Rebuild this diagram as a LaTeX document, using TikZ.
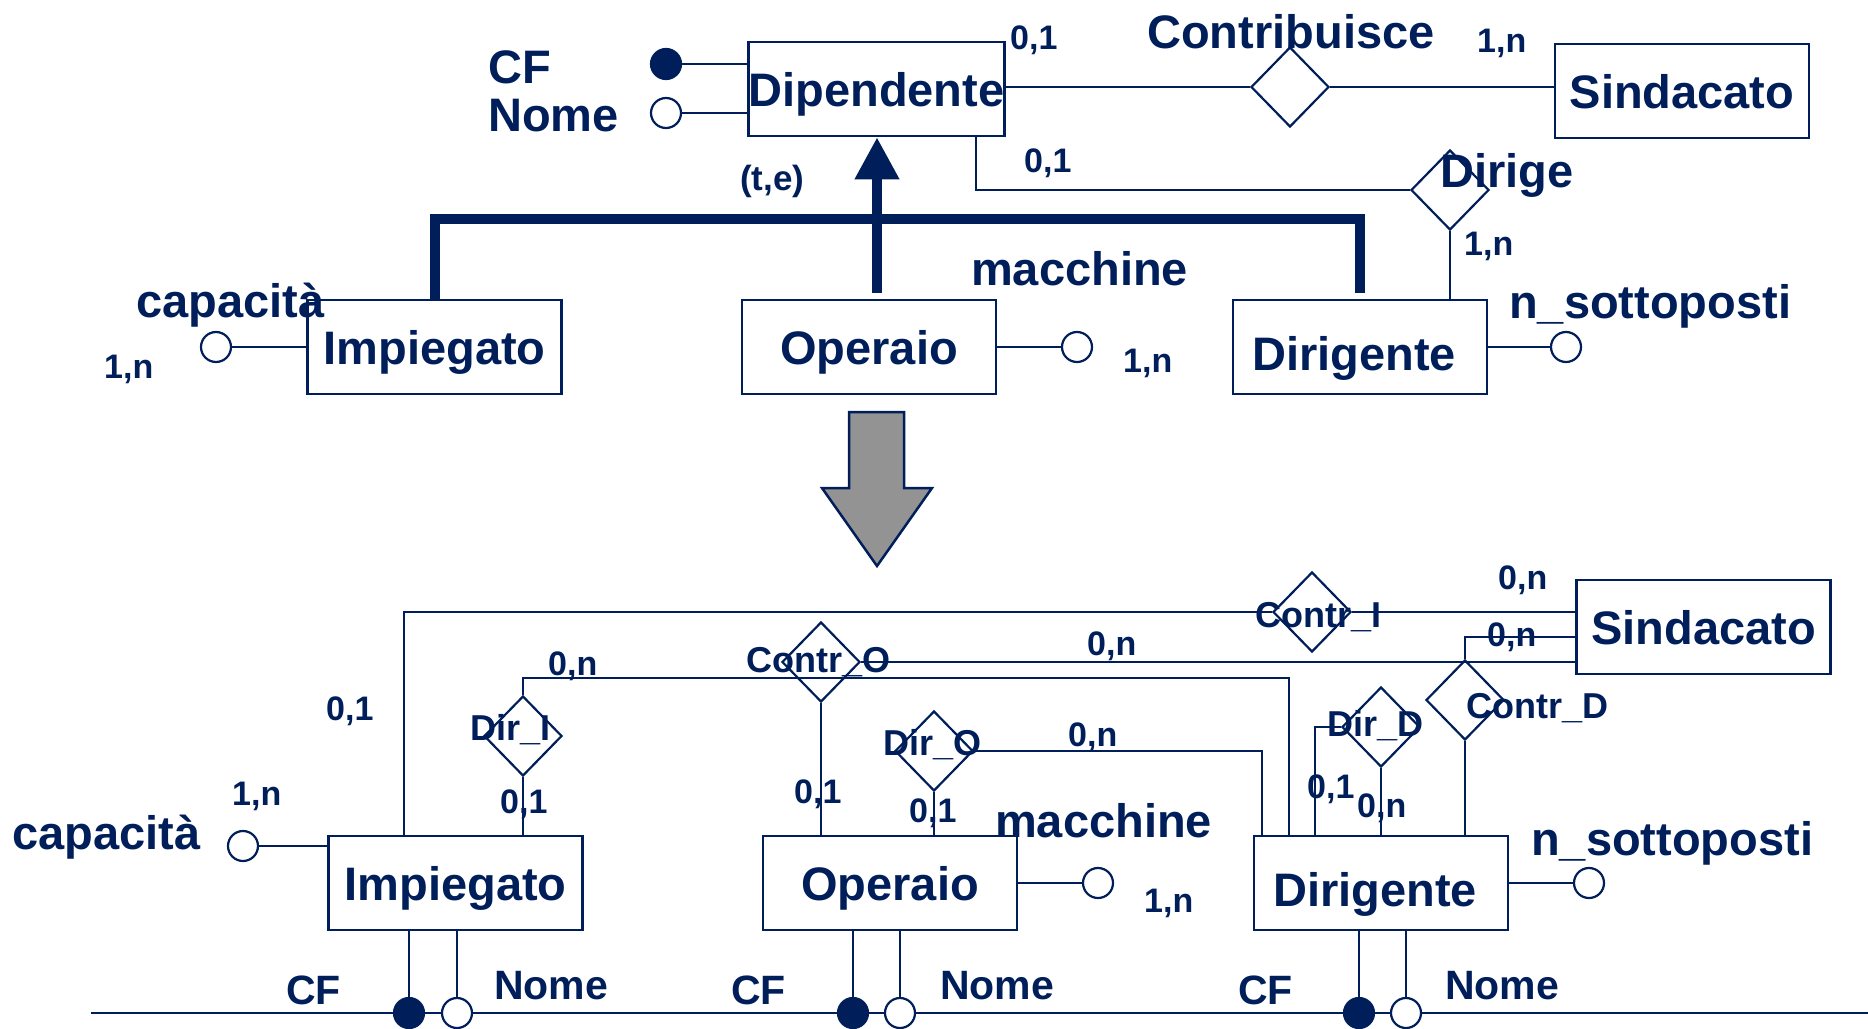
\documentclass[tikz,border=0pt]{standalone}
\usepackage{fontspec}
\setmainfont{Liberation Sans}
\usetikzlibrary{shapes.geometric,arrows.meta,calc}
\definecolor{erblue}{RGB}{0,30,90}
\definecolor{argrey}{RGB}{147,147,147}
\newcommand\fsBig{\fontsize{47}{50}\selectfont\bfseries}
\newcommand\fsLab{\fontsize{34}{36}\selectfont\bfseries}
\newcommand\fsRel{\fontsize{36}{38}\selectfont\bfseries}
\newcommand\fsAtt{\fontsize{41}{44}\selectfont\bfseries}
\begin{document}
\begin{tikzpicture}[x=1pt,y=-1pt,
  every node/.style={text=erblue},
  ent/.style={draw=erblue,line width=2.5pt,minimum width=254pt,minimum height=94pt,inner sep=0pt,text height=34pt,text depth=0pt,font=\fsBig},
  entlow/.style={ent,text height=46pt},
  rel/.style={draw=erblue,line width=2.2pt,diamond,minimum width=78pt,minimum height=80pt,inner sep=0pt},
  attr/.style={circle,draw=erblue,line width=2.2pt,fill=white,minimum size=30pt,inner sep=0pt},
  key/.style={attr,fill=erblue},
  conn/.style={draw=erblue,line width=2.2pt},
  isa/.style={draw=erblue,line width=10pt},
  lab/.style={anchor=base west,inner sep=0pt,font=\fsLab},
  big/.style={anchor=base west,inner sep=0pt,font=\fsBig},
  rn/.style={anchor=base west,inner sep=0pt,font=\fsRel},
  an/.style={anchor=base west,inner sep=0pt,font=\fsAtt},
]
\useasboundingbox (0,0) rectangle (1868,1028);
\clip (0,0) rectangle (1868,1028);

% ---------------- top schema ----------------
\node[ent] (dip) at (876.5,89) {Dipendente};
\node[ent] (sindT) at (1682,91) {Sindacato};
\node[ent] (impT) at (434.5,347) {Impiegato};
\node[ent] (opT) at (869,347) {Operaio};
\node[entlow] (dirT) at (1360,347) {\kern-12pt Dirigente};
\node[rel] (contrib) at (1290,87) {};
\node[rel] (dirige) at (1450,190) {};
\node[key] (cfT) at (666,64) {};
\node[attr] (nomeT) at (666,113) {};
\node[attr] (capT) at (216,347) {};
\node[attr] (macT) at (1077,347) {};
\node[attr] (nsT) at (1566,347) {};
\coordinate (dipd) at ([xshift=99.5pt]dip.south);
\coordinate (isabar) at (877,219);

\draw[conn] (cfT) -- (cfT -| dip.west);
\draw[conn] (nomeT) -- (nomeT -| dip.west);
\draw[conn] (contrib) -- (contrib -| dip.east);
\draw[conn] (contrib) -- (contrib -| sindT.west);
\draw[conn] (dirige.west) -| (dipd);
\draw[conn] (dirige.south) -- (dirige.south |- dirT.north);
\draw[conn] (capT) -- (capT -| impT.west);
\draw[conn] (macT) -- (macT -| opT.east);
\draw[conn] (nsT) -- (nsT -| dirT.east);
\draw[isa,shorten >=6pt] (impT.north) |- (isabar) -| (dirT.north);
\draw[isa,shorten <=6pt,-{Triangle[length=42pt,width=42pt]}] (opT.north -| isabar) -- (dip.south -| isabar);

\node[big] (tcf) at (488,83) {CF};
\node[big] (tnome) at (488,131) {Nome};
\node[lab] (l1) at (1010,49) {0,1};
\node[big] (tcontrib) at (1147,48) {Contribuisce};
\node[lab] (l2) at (1477,52) {1,n};
\node[lab] (l3) at (1024,172) {0,1};
\node[big] (tdirige) at (1440,187) {Dirige};
\node[lab] (l4) at (1464,255) {1,n};
\node[lab,font=\fontsize{35}{37}\selectfont\bfseries] (tte) at (740,190) {(t,e)};
\node[big] (tcapT) at (136,317) {capacità};
\node[lab] (l5) at (104,378) {1,n};
\node[big] (tmacT) at (971,285) {macchine};
\node[lab] (l6) at (1123,372) {1,n};
\node[big] (tnsT) at (1509,318) {n\_sottoposti};

% ---------------- transformation arrow ----------------
\filldraw[fill=argrey,draw=erblue,line width=2.5pt,line join=miter]
  (849,412) -- (904,412) -- (904,488) -- (932,488) -- (877,566) -- (822,488) -- (849,488) -- cycle;

% ---------------- bottom schema ----------------
\coordinate (bl) at (91,1013);
\coordinate (br) at (1880,1013);
\draw[conn] (bl) -- (br);

\node[ent] (impB) at (455.5,883) {Impiegato};
\node[ent] (opB) at (890,883) {Operaio};
\node[entlow] (dirB) at (1381,883) {\kern-12pt Dirigente};
\node[ent] (sindB) at (1703.5,627) {Sindacato};
\node[rel] (contrI) at (1312,612) {};
\node[rel] (contrO) at (821,662) {};
\node[rel] (dirI) at (523,736) {};
\node[rel] (dirO) at (934,751) {};
\node[rel] (dirD) at (1381,727) {};
\node[rel] (contrD) at (1465,700) {};

\draw[conn] (contrI.west) -| ([xshift=-51.5pt]impB.north);
\draw[conn] (contrI.east) -- (contrI.east -| sindB.west);
\draw[conn] (contrO.east) -- (contrO.east -| sindB.west);
\draw[conn] (contrO.south) -- (contrO.south |- opB.north);
\draw[conn] (dirI.north) -- ++(0,-17) -| ([xshift=-92pt]dirB.north);
\draw[conn] (dirI.south) -- (dirI.south |- impB.north);
\draw[conn] (dirO.east) -| ([xshift=-119pt]dirB.north);
\draw[conn] (dirO.south) -- (dirO.south |- opB.north);
\draw[conn] (dirD.west) -| ([xshift=-66pt]dirB.north);
\draw[conn] (dirD.south) -- (dirD.south |- dirB.north);
\draw[conn] (contrD.north) |- ([yshift=-10pt]sindB.west);
\draw[conn] (contrD.south) -- (contrD.south |- dirB.north);

\node[attr] (capB) at (243,846) {};
\node[attr] (macB) at (1098,883) {};
\node[attr] (nsB) at (1589,883) {};
\draw[conn] (capB) -- (capB -| impB.west);
\draw[conn] (macB) -- (macB -| opB.east);
\draw[conn] (nsB) -- (nsB -| dirB.east);

\node[key] (cfI) at (409,1013) {};
\node[attr] (nmI) at (457,1013) {};
\node[key] (cfO) at (853,1013) {};
\node[attr] (nmO) at (900,1013) {};
\node[key] (cfD) at (1359,1013) {};
\node[attr] (nmD) at (1406,1013) {};
\draw[conn] (cfI) -- (cfI |- impB.south);
\draw[conn] (nmI) -- (nmI |- impB.south);
\draw[conn] (cfO) -- (cfO |- opB.south);
\draw[conn] (nmO) -- (nmO |- opB.south);
\draw[conn] (cfD) -- (cfD |- dirB.south);
\draw[conn] (nmD) -- (nmD |- dirB.south);

\node[lab] (b1) at (1498,589) {0,n};
\node[rn] (tcI) at (1255,627) {Contr\_I};
\node[lab] (b2) at (326,720) {0,1};
\node[lab] (b3) at (548,675) {0,n};
\node[rn] (tcO) at (746,672) {Contr\_O};
\node[lab] (b4) at (1087,655) {0,n};
\node[lab] (b5) at (1487,646) {0,n};
\node[rn] (tdI) at (470,740) {Dir\_I};
\node[lab] (b6) at (500,813) {0,1};
\node[lab] (b7) at (794,803) {0,1};
\node[rn] (tdO) at (883,755) {Dir\_O};
\node[lab] (b8) at (1068,746) {0,n};
\node[lab] (b9) at (909,822) {0,1};
\node[big] (tmacB) at (995,837) {macchine};
\node[lab] (b10) at (1144,912) {1,n};
\node[rn] (tdD) at (1327,736) {Dir\_D};
\node[lab] (b11) at (1307,798) {0,1};
\node[lab] (b12) at (1357,817) {0,n};
\node[rn] (tcD) at (1466,718) {Contr\_D};
\node[big] (tnsB) at (1531,855) {n\_sottoposti};
\node[big] (tcapB) at (12,849) {capacità};
\node[lab] (b13) at (232,805) {1,n};
\node[an] (cf1) at (286,1004) {CF};
\node[an] (cf2) at (731,1004) {CF};
\node[an] (cf3) at (1238,1004) {CF};
\node[an] (nm1) at (494,999) {Nome};
\node[an] (nm2) at (940,999) {Nome};
\node[an] (nm3) at (1445,999) {Nome};
\end{tikzpicture}
\end{document}
